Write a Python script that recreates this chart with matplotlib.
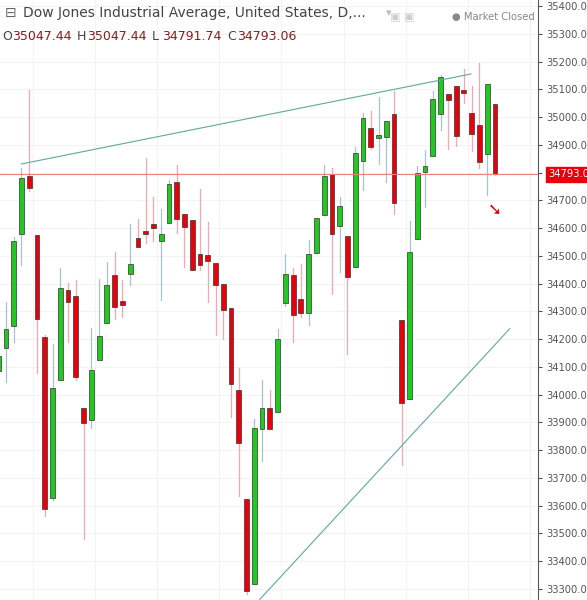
import numpy as np
import matplotlib.pyplot as plt
from matplotlib.patches import Rectangle

# daily OHLC
opens = [34085, 34168, 34248, 34578, 34787, 34575, 34209, 33628, 34053, 34378,
         34354, 33950, 33909, 34124, 34257, 34432, 34337, 34435, 34563, 34588,
         34615, 34553, 34619, 34767, 34650, 34629, 34506, 34502, 34475, 34399,
         34312, 34016, 33624, 33317, 33876, 33950, 33936, 34330, 34432, 34343,
         34294, 34509, 34647, 34794, 34606, 34571, 34460, 34842, 34959, 34925,
         34928, 35012, 34267, 33985, 34560, 34801, 34859, 35012, 35082, 35112,
         35097, 35015, 34970, 34867, 35047.44]
highs = [34181, 34333, 34567, 34815, 35097, 34575, 34216, 34181, 34457, 34402,
         34413, 33950, 34239, 34415, 34477, 34512, 34413, 34615, 34633, 34853,
         34712, 34670, 34774, 34826, 34650, 34629, 34742, 34622, 34475, 34399,
         34312, 34095, 33624, 33913, 34051, 34016, 34237, 34505, 34457, 34471,
         34556, 34636, 34826, 34815, 34712, 34571, 34891, 35014, 35021, 35072,
         34987, 35093, 34267, 34625, 34822, 34880, 35093, 35150, 35082, 35112,
         35173, 35111, 35194, 35118, 35047.44]
lows = [34044, 34044, 34188, 34468, 34732, 34078, 33562, 33620, 34053, 34188,
        34051, 33479, 33878, 34124, 34257, 34271, 34278, 34395, 34533, 34546,
        34553, 34340, 34619, 34581, 34460, 34449, 34450, 34333, 34216, 34202,
        33920, 33633, 33280, 33317, 33761, 33876, 33936, 34319, 34191, 34278,
        34250, 34509, 34647, 34363, 34440, 34147, 34460, 34736, 34884, 34831,
        34765, 34652, 33748, 33985, 34560, 34677, 34859, 34953, 34884, 34897,
        35049, 34877, 34815, 34718, 34791.74]
closes = [34140, 34237, 34553, 34780, 34743, 34271, 33589, 34023, 34385, 34333,
          34064, 33899, 34088, 34212, 34395, 34315, 34323, 34471, 34533, 34578,
          34601, 34578, 34760, 34632, 34603, 34449, 34468, 34482, 34395, 34303,
          34037, 33826, 33293, 33878, 33950, 33876, 34202, 34436, 34285, 34294,
          34505, 34636, 34787, 34578, 34681, 34425, 34870, 34998, 34891, 34935,
          34987, 34691, 33968, 34515, 34798, 34823, 35065, 35145, 35063, 34932,
          35085, 34939, 34838, 35118, 34793.06]
price_ticks = np.arange(33300, 35401, 100)
last_price = 34793.06
upper_line = ([3.0, 60.9], [34831, 35155])
lower_line = ([33.7, 65.9], [33262, 34237])

GREEN = '#1fc91f'
RED = '#e8000b'

fig = plt.figure(figsize=(5.87, 6.0), dpi=100)
ax = fig.add_axes([0, 0, 538 / 587, 1])
ax.set_xlim(0.23, 69.55)
ax.set_ylim(33260, 35421.6)

for p in price_ticks:
    ax.axhline(p, color='#f3f3f3', lw=0.8, zorder=0)
for xv in range(-4, 70, 8):
    ax.axvline(xv + 0.5, color='#f3f3f3', lw=0.8, zorder=0)

w = 0.62
for i, (o, h, l, c) in enumerate(zip(opens, highs, lows, closes)):
    up = c >= o
    col = GREEN if up else RED
    wick = '#a9c3cc' if up else '#f4a7ad'
    ax.plot([i, i], [l, h], color=wick, lw=0.9, zorder=1)
    lo, hi = min(o, c), max(o, c)
    ax.add_patch(Rectangle((i - w / 2, lo), w, max(hi - lo, 6),
                           facecolor=col, edgecolor='#333333', lw=0.5, zorder=2))

ax.plot(*upper_line, color='#5fa8a0', lw=0.8, zorder=3)
ax.plot(*lower_line, color='#5fa8a0', lw=0.8, zorder=3)
ax.axhline(last_price, color='#f08080', lw=0.8, zorder=3)

ax.text(64.0, 34665, '\u2798', fontsize=12, color=RED, ha='center', va='center',
        fontweight='bold')

ax.set_xticks([])
ax.set_yticks(price_ticks)
ax.yaxis.tick_right()
ax.set_yticklabels(['%.2f' % p for p in price_ticks], fontsize=7.2, color='#555555')
ax.tick_params(axis='y', length=3, color='#555555', pad=3)
for s in ['top', 'left', 'bottom']:
    ax.spines[s].set_visible(False)
ax.spines['right'].set_color('#555555')

ax.text(1.02, (last_price - 33260) / (35421.6 - 33260), '34793.06', transform=ax.transAxes,
        fontsize=7.2, color='white', va='center', ha='left',
        bbox=dict(boxstyle='square,pad=0.25', fc=RED, ec=RED))

fig.text(0.008, 0.978, '\u229f', fontsize=10, color='#666666', va='center')
fig.text(0.04, 0.978, 'Dow Jones Industrial Average, United States, D,...',
         fontsize=10, color='#444444', va='center')
fig.text(0.658, 0.978, '\u25be', fontsize=8, color='#bbbbbb', va='center')
fig.text(0.665, 0.972, '\u25a3 \u25a3', fontsize=8, color='#cccccc', va='center')
fig.text(0.77, 0.972, '\u25cf Market Closed', fontsize=7.2, color='#888888', va='center')

x0 = 0.003
for lab, val in [('O', '35047.44'), ('H', '35047.44'), ('L', '34791.74'), ('C', '34793.06')]:
    fig.text(x0, 0.94, lab, fontsize=9, color='#444444', va='center')
    fig.text(x0 + 0.017, 0.94, val, fontsize=9, color='#8b1a1a', va='center')
    x0 += 0.128

fig.savefig('out.png', dpi=100)
